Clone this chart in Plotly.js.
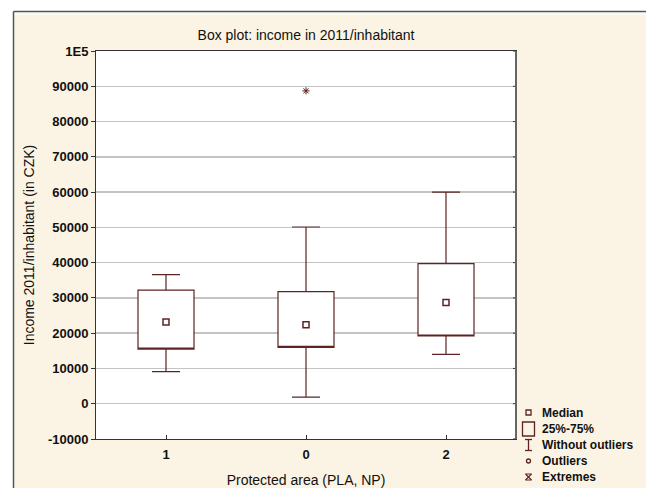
<!DOCTYPE html>
<html>
<head>
<meta charset="utf-8">
<script src="https://cdn.plot.ly/plotly-3.0.1.min.js"></script>
<style>html,body{margin:0;padding:0;background:#fff;}#chart{width:646px;height:488px;}</style>
</head>
<body>
<div id="chart"></div>
<script>
// ---- data ----
const categories = ["1", "0", "2"];
const lowerWhisker = [9100, 1900, 14000];
const q1Values = [15500, 16000, 19200];
const medianValues = [23200, 22400, 28700];
const q3Values = [32200, 31800, 39700];
const upperWhisker = [36600, 50100, 60000];
const extremeCategories = ["0"];
const extremeValues = [88700];
const yTickVals = [-10000, 0, 10000, 20000, 30000, 40000, 50000, 60000, 70000, 80000, 90000, 100000];
const yTickText = ["-10000", "0", "10000", "20000", "30000", "40000", "50000", "60000", "70000", "80000", "90000", "1E5"];
const legendLabels = ["Median", "25%-75%", "Without outliers", "Outliers", "Extremes"];

// ---- style ----
const W = 646, H = 488;
const ML = 96, MR = 130, MT = 51, MB = 49;
const PW = W - ML - MR, PH = H - MT - MB;
const px = x => (x - ML) / PW;
const py = y => (H - MB - y) / PH;
const BOX = "#5e2424";
const CREAM = "#FBF4E4";
const FONT = "Liberation Sans, Arial, sans-serif";

const traces = [
  {
    type: "box",
    x: categories,
    q1: q1Values,
    median: q1Values, // median drawn as a square marker instead of a line
    q3: q3Values,
    lowerfence: lowerWhisker,
    upperfence: upperWhisker,
    width: 0.4,
    whiskerwidth: 0.5,
    fillcolor: "#ffffff",
    line: {color: BOX, width: 1.2},
    boxpoints: false,
    hoverinfo: "skip",
    showlegend: false
  },
  {
    type: "scatter",
    mode: "markers",
    x: categories,
    y: medianValues,
    marker: {symbol: "square-open", size: 6, color: BOX, line: {width: 1.5, color: BOX}},
    showlegend: false
  },
  {
    type: "scatter",
    mode: "markers",
    x: extremeCategories,
    y: extremeValues,
    marker: {symbol: "asterisk-open", size: 6, color: BOX, line: {width: 1, color: BOX}},
    showlegend: false
  }
];

const shapes = [];
const annotations = [];
// white outer margins and frame
shapes.push({type: "rect", xref: "paper", yref: "paper", x0: px(0), x1: px(13), y0: py(H), y1: py(0), fillcolor: "#ffffff", line: {width: 0}, layer: "above"});
shapes.push({type: "rect", xref: "paper", yref: "paper", x0: px(0), x1: px(W), y0: py(11), y1: py(0), fillcolor: "#ffffff", line: {width: 0}, layer: "above"});
shapes.push({type: "rect", xref: "paper", yref: "paper", x0: px(14), x1: px(W), y0: py(15), y1: py(12), fillcolor: "#FDFAF3", line: {width: 0}, layer: "above"});
shapes.push({type: "line", xref: "paper", yref: "paper", x0: px(13.5), x1: px(13.5), y0: py(H), y1: py(11.5), line: {color: "#555", width: 1.5}, layer: "above"});
shapes.push({type: "line", xref: "paper", yref: "paper", x0: px(13.5), x1: px(W), y0: py(11.5), y1: py(11.5), line: {color: "#555", width: 1.5}, layer: "above"});
// right-side inward y ticks
yTickVals.forEach(v => {
  shapes.push({type: "line", xref: "paper", yref: "y", x0: 1, x1: px(ML + PW - 3), y0: v, y1: v, line: {color: "#333", width: 1}, layer: "above"});
});
// slightly heavier grey right border like the reference
shapes.push({type: "line", xref: "paper", yref: "paper", x0: 1, x1: 1, y0: 0, y1: 1, line: {color: "#666", width: 2}, layer: "above"});

// legend symbols
const lx = 528.5;
const legY = [412.5, 429, 445, 461, 477];
shapes.push({type: "rect", xref: "paper", yref: "paper", x0: px(lx - 2.5), x1: px(lx + 2.5), y0: py(legY[0] + 2.5), y1: py(legY[0] - 2.5), line: {color: BOX, width: 1.3}});
shapes.push({type: "rect", xref: "paper", yref: "paper", x0: px(lx - 6), x1: px(lx + 6), y0: py(legY[1] + 7), y1: py(legY[1] - 7), line: {color: BOX, width: 1.3}});
shapes.push({type: "line", xref: "paper", yref: "paper", x0: px(lx), x1: px(lx), y0: py(legY[2] + 5.5), y1: py(legY[2] - 5.5), line: {color: BOX, width: 1.3}});
shapes.push({type: "line", xref: "paper", yref: "paper", x0: px(lx - 3.5), x1: px(lx + 3.5), y0: py(legY[2] - 5.5), y1: py(legY[2] - 5.5), line: {color: BOX, width: 1.3}});
shapes.push({type: "line", xref: "paper", yref: "paper", x0: px(lx - 3.5), x1: px(lx + 3.5), y0: py(legY[2] + 5.5), y1: py(legY[2] + 5.5), line: {color: BOX, width: 1.3}});
shapes.push({type: "circle", xref: "paper", yref: "paper", x0: px(lx - 2), x1: px(lx + 2), y0: py(legY[3] + 2), y1: py(legY[3] - 2), line: {color: BOX, width: 1.3}});
shapes.push({type: "line", xref: "paper", yref: "paper", x0: px(lx - 3), x1: px(lx + 3), y0: py(legY[4] - 3), y1: py(legY[4] + 3), line: {color: BOX, width: 1.1}});
shapes.push({type: "line", xref: "paper", yref: "paper", x0: px(lx - 3), x1: px(lx + 3), y0: py(legY[4] + 3), y1: py(legY[4] - 3), line: {color: BOX, width: 1.1}});
shapes.push({type: "line", xref: "paper", yref: "paper", x0: px(lx - 3), x1: px(lx + 3), y0: py(legY[4] - 3), y1: py(legY[4] - 3), line: {color: BOX, width: 1}});
shapes.push({type: "line", xref: "paper", yref: "paper", x0: px(lx - 3), x1: px(lx + 3), y0: py(legY[4] + 3), y1: py(legY[4] + 3), line: {color: BOX, width: 1}});
legendLabels.forEach((t, i) => {
  annotations.push({xref: "paper", yref: "paper", x: px(540), y: py(legY[i]), xanchor: "left", yanchor: "middle",
    text: "<b>" + t + "</b>", showarrow: false, font: {family: FONT, size: 12, color: "#111"}});
});

const layout = {
  width: W, height: H,
  margin: {l: ML, r: MR, t: MT, b: MB, pad: 0},
  paper_bgcolor: CREAM,
  plot_bgcolor: "#ffffff",
  showlegend: false,
  font: {family: FONT, color: "#111"},
  title: {text: "Box plot: income in 2011/inhabitant", font: {family: FONT, size: 14, color: "#111"},
    x: 0.5, xref: "paper", xanchor: "center", y: 1 - 35 / H, yref: "container", yanchor: "middle"},
  xaxis: {
    type: "category", categoryorder: "array", categoryarray: categories,
    range: [-0.5, 2.5],
    showgrid: false, zeroline: false,
    showline: true, linecolor: "#333", linewidth: 1, mirror: true,
    ticks: "inside", ticklen: 4, tickcolor: "#333",
    ticklabelstandoff: 3,
    tickfont: {family: FONT, size: 13, color: "#111", weight: "bold"},
    title: {text: "Protected area (PLA, NP)", font: {family: FONT, size: 14, color: "#111"}, standoff: 14}
  },
  yaxis: {
    range: [-10000, 100000],
    tickmode: "array", tickvals: yTickVals, ticktext: yTickText,
    showgrid: true, gridcolor: "#c4c4c4", gridwidth: 1.5,
    zeroline: false,
    showline: true, linecolor: "#333", linewidth: 1, mirror: true,
    ticks: "outside", ticklen: 4, tickcolor: "#333",
    tickfont: {family: FONT, size: 13, color: "#111", weight: "bold"},
    title: {text: "Income 2011/inhabitant (in CZK)", font: {family: FONT, size: 14, color: "#111"}, standoff: 10}
  },
  shapes: shapes,
  annotations: annotations
};

Plotly.newPlot("chart", traces, layout, {displayModeBar: false, staticPlot: true});
</script>
</body>
</html>
